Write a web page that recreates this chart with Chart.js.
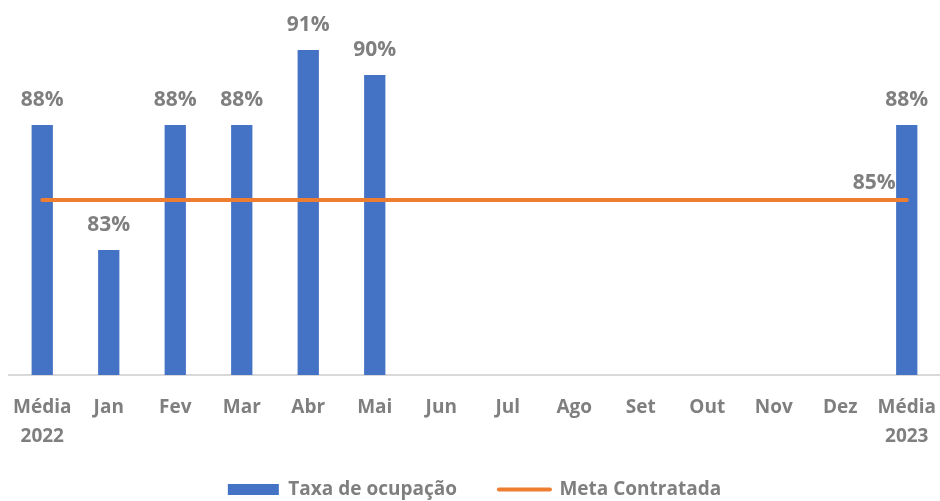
<!DOCTYPE html>
<html>
<head>
<meta charset="utf-8">
<script src="https://cdn.jsdelivr.net/npm/chart.js@4"></script>
<style>
    html, body { margin: 0; padding: 0; background: #fff; }
    #wrap { width: 940px; height: 501px; position: relative; }
</style>
</head>
<body>
<div id="wrap"><canvas id="ocupChart"></canvas></div>
<script>
// Data
const categories = [['Média', '2022'], 'Jan', 'Fev', 'Mar', 'Abr', 'Mai', 'Jun', 'Jul', 'Ago', 'Set', 'Out', 'Nov', 'Dez', ['Média', '2023']];
const taxaOcupacao = [88, 83, 88, 88, 91, 90, null, null, null, null, null, null, null, 88];
const metaContratada = [85, 85, 85, 85, 85, 85, 85, 85, 85, 85, 85, 85, 85, 85];

const blue = '#4472C4';
const orange = '#ED7D31';
const grey = '#7F7F7F';
const fontName = '"Open Sans", Lato, sans-serif';

// Value labels above bars + last point of the line
const valueLabels = {
    id: 'valueLabels',
    afterLayout(chart) {
        // legend items sit a bit higher than the legend padding would put them
        chart.legend.top -= 14;
    },
    afterDatasetsDraw(chart) {
        const ctx = chart.ctx;
        ctx.save();
        ctx.fillStyle = grey;
        ctx.font = 'bold 21px ' + fontName;
        ctx.textBaseline = 'middle';

        // bars (dataset 1)
        const barMeta = chart.getDatasetMeta(1);
        ctx.textAlign = 'center';
        barMeta.data.forEach((bar, i) => {
            const v = taxaOcupacao[i];
            if (v === null) return;
            ctx.fillText(v + '%', bar.x, bar.y - 25);
        });

        // line, last point only (dataset 0)
        const lineMeta = chart.getDatasetMeta(0);
        const last = lineMeta.data[lineMeta.data.length - 1];
        ctx.textAlign = 'right';
        ctx.fillText(metaContratada[metaContratada.length - 1] + '%', last.x - 11, last.y - 17);
        ctx.restore();
    }
};

const ctx = document.getElementById('ocupChart').getContext('2d');

new Chart(ctx, {
    data: {
        labels: categories,
        datasets: [{
            type: 'line',
            label: 'Meta Contratada',
            data: metaContratada,
            borderColor: orange,
            backgroundColor: orange,
            borderWidth: 4,
            borderCapStyle: 'round',
            pointRadius: 0,
            tension: 0
        }, {
            type: 'bar',
            label: 'Taxa de ocupação',
            data: taxaOcupacao,
            backgroundColor: blue,
            borderWidth: 0,
            categoryPercentage: 1,
            barPercentage: 0.32
        }]
    },
    options: {
        responsive: true,
        maintainAspectRatio: false,
        animation: false,
        layout: {
            padding: { left: 9, right: 0, top: 0, bottom: 0 }
        },
        plugins: {
            tooltip: { enabled: false },
            legend: {
                position: 'bottom',
                reverse: true,
                maxHeight: 49,
                labels: {
                    usePointStyle: true,
                    pointStyleWidth: 51,
                    boxHeight: 11,
                    padding: 42,
                    color: grey,
                    font: { family: fontName, size: 19, weight: 'bold' },
                    generateLabels(chart) {
                        const items = Chart.defaults.plugins.legend.labels.generateLabels(chart);
                        items.forEach(it => {
                            if (it.datasetIndex === 0) {
                                it.pointStyle = 'line';
                                it.lineWidth = 4;
                                it.lineCap = 'round';
                            } else {
                                it.pointStyle = 'rect';
                                it.lineWidth = 0;
                            }
                        });
                        return items;
                    }
                }
            }
        },
        scales: {
            x: {
                offset: true,
                grid: { display: false, drawTicks: false },
                border: { display: true, color: '#D9D9D9', width: 2 },
                ticks: {
                    color: grey,
                    padding: 18,
                    maxRotation: 0,
                    autoSkip: false,
                    font: { family: fontName, size: 19, weight: 'bold', lineHeight: 1.53 }
                },
                afterFit(scale) {
                    scale.height = 77;
                    scale.paddingLeft = 0;
                    scale.paddingRight = 0;
                }
            },
            y: {
                display: false,
                min: 78,
                max: 93
            }
        }
    },
    plugins: [valueLabels]
});
</script>
</body>
</html>
